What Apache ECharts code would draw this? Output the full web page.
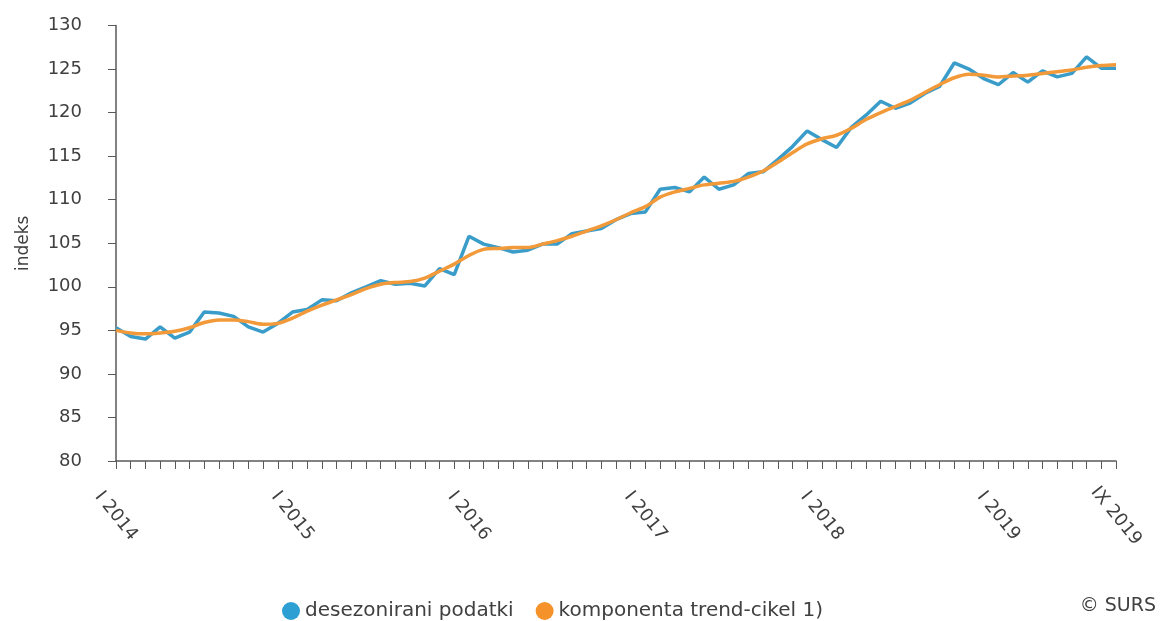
<!DOCTYPE html>
<html>
<head>
<meta charset="utf-8">
<script src="https://cdn.jsdelivr.net/npm/echarts@6/dist/echarts.min.js"></script>
<style>
html,body{margin:0;padding:0;background:#fff;}
#chart{width:1162px;height:621px;}
</style>
</head>
<body>
<div id="chart"></div>
<script>
const monthNames = ['I','II','III','IV','V','VI','VII','VIII','IX','X','XI','XII'];
const years = [2014, 2015, 2016, 2017, 2018, 2019];
const lastMonthOf2019 = 9;

const seriesNames = ['desezonirani podatki', 'komponenta trend-cikel 1)'];

const desezonirani = [
  95.3, 94.3, 94.0, 95.4, 94.1, 94.8, 97.1, 97.0, 96.6, 95.4, 94.8, 95.8,
  97.1, 97.4, 98.5, 98.4, 99.3, 100.0, 100.7, 100.3, 100.4, 100.1, 102.1, 101.4,
  105.8, 104.9, 104.5, 104.0, 104.2, 104.9, 104.9, 106.1, 106.4, 106.7, 107.7, 108.4,
  108.6, 111.2, 111.4, 110.9, 112.6, 111.2, 111.7, 113.0, 113.2, 114.6, 116.1, 117.9,
  116.9, 116.0, 118.3, 119.7, 121.3, 120.5, 121.1, 122.2, 123.0, 125.7, 125.0, 123.9,
  123.2, 124.6, 123.5, 124.8, 124.1, 124.5, 126.4, 125.1, 125.1
];

const trendCikel = [
  95.0, 94.7, 94.6, 94.7, 94.9, 95.3, 95.9, 96.2, 96.2, 96.0, 95.7, 95.8,
  96.4, 97.2, 97.9, 98.5, 99.1, 99.8, 100.3, 100.5, 100.6, 101.0, 101.8, 102.6,
  103.6, 104.3, 104.4, 104.5, 104.5, 104.9, 105.3, 105.8, 106.4, 107.0, 107.7, 108.5,
  109.2, 110.3, 110.9, 111.3, 111.7, 111.9, 112.1, 112.6, 113.3, 114.3, 115.4, 116.4,
  117.0, 117.4, 118.2, 119.2, 120.0, 120.7, 121.4, 122.3, 123.2, 124.0, 124.4, 124.3,
  124.1, 124.2, 124.3, 124.5, 124.7, 124.9, 125.2, 125.4, 125.5
];

const categories = [];
years.forEach(y => {
  const n = (y === 2019) ? lastMonthOf2019 : 12;
  for (let m = 0; m < n; m++) categories.push(monthNames[m] + ' ' + y);
});

const yMin = 80, yMax = 130, yStep = 5;
const axisColor = '#595959';
const textColor = '#404040';
const font = 'DejaVu Sans';

const chart = echarts.init(document.getElementById('chart'), null, {renderer: 'canvas'});
chart.setOption({
  animation: false,
  backgroundColor: '#ffffff',
  grid: {left: 116, right: 46, top: 25.5, bottom: 160, containLabel: false},
  xAxis: {
    type: 'category',
    data: categories,
    boundaryGap: false,
    axisLine: {show: true, lineStyle: {color: axisColor, width: 1.5}},
    axisTick: {show: true, interval: 0, length: 8, lineStyle: {color: axisColor, width: 1}},
    axisLabel: {
      interval: function (i) { return i % 12 === 0 || i === categories.length - 1; },
      rotate: -51,
      align: 'center',
      verticalAlign: 'middle',
      margin: 55,
      fontSize: 18,
      fontFamily: font,
      color: textColor
    },
    splitLine: {show: false}
  },
  yAxis: {
    type: 'value',
    min: yMin, max: yMax, interval: yStep,
    name: 'indeks',
    nameLocation: 'middle',
    nameGap: 84,
    nameTextStyle: {fontSize: 17, fontFamily: font, color: textColor},
    axisLine: {show: true, lineStyle: {color: axisColor, width: 1.5}},
    axisTick: {show: true, length: 8, lineStyle: {color: axisColor, width: 1}},
    axisLabel: {margin: 34, fontSize: 18, fontFamily: font, color: textColor},
    splitLine: {show: false}
  },
  legend: {
    data: seriesNames,
    left: 277,
    top: 596,
    icon: 'circle',
    itemWidth: 18,
    itemHeight: 18,
    itemGap: 22,
    textStyle: {fontSize: 20, fontFamily: font, color: textColor}
  },
  graphic: [{
    type: 'text',
    right: 6,
    top: 597,
    style: {text: '© SURS', fontSize: 19, fontFamily: font, fill: textColor}
  }],
  series: [
    {
      name: seriesNames[0],
      type: 'line',
      data: desezonirani,
      showSymbol: false,
      symbol: 'circle',
      color: '#2e9fd3',
      lineStyle: {width: 3.5, color: '#3a9cc9'},
      z: 2
    },
    {
      name: seriesNames[1],
      type: 'line',
      data: trendCikel,
      showSymbol: false,
      symbol: 'circle',
      smooth: 0.3,
      color: '#f5922a',
      lineStyle: {width: 3.5, color: '#f29a3a'},
      z: 3
    }
  ]
});
</script>
</body>
</html>
